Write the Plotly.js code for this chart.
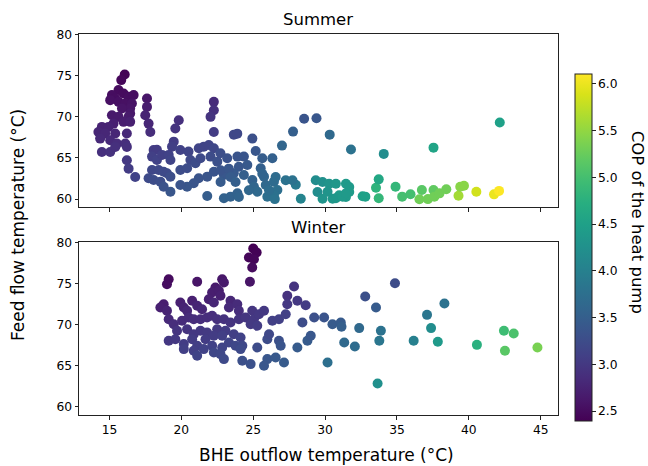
<!DOCTYPE html>
<html>
<head>
<meta charset="utf-8">
<script src="https://cdn.plot.ly/plotly-3.0.1.min.js"></script>
<style>html,body{margin:0;padding:0;background:#fff;}#chart{width:648px;height:466px;}</style>
</head>
<body>
<div id="chart"></div>
<script>
const summerX = [16.06,15.82,15.63,15.17,15.4,15.98,16.33,16.68,15.05,15.63,16.1,16.56,16.44,15.87,16.44,15.17,15.63,16.33,15.98,15.28,16.44,14.47,14.93,14.23,14.7,15.4,14.35,15.05,15.52,16.21,16.1,16.21,14.47,15.05,15.4,16.21,16.33,16.79,17.61,17.61,17.49,17.72,17.84,19.82,19.58,22.26,22.26,22.03,22.26,
18.07,18.3,17.96,18.3,18.66,19.12,19.47,19.35,19.24,19.93,20.5,20.63,17.96,18.42,18.77,19.0,17.72,18.07,18.54,19.24,19.93,20.4,20.98,21.33,21.21,21.56,21.91,22.26,22.03,22.5,22.72,23.19,23.9,24.35,24.59,24.0,23.65,22.96,22.26,21.8,21.21,20.86,20.4,19.93,19.24,18.77,21.8,22.96,23.42,23.9,24.35,24.94,25.05,25.29,25.87,26.44,26.68,25.63,25.52,26.33,25.75,25.98,26.44,
28.54,29.4,27.77,30.32,27.0,31.8,34.08,37.54,42.15,24.94,23.65,23.89,25.17,22.73,23.3,25.63,26.56,27.26,27.96,27.73,22.73,23.42,23.77,24.7,26.1,24.0,26.5,28.31,
29.35,29.82,30.28,30.75,31.45,31.68,29.47,29.82,30.52,30.98,31.45,31.68,32.61,30.17,30.75,31.22,31.45,
32.8,33.54,33.73,33.73,34.9,35.36,35.94,36.56,36.73,37.15,37.54,37.6,37.96,38.43,39.28,39.4,39.66,40.52,41.75,42.1];
const summerY = [75.13,74.45,73.24,72.63,72.22,72.82,72.42,72.63,72.02,71.81,71.61,71.61,71.0,71.0,70.39,70.19,69.99,69.99,69.38,69.17,69.38,68.77,68.77,68.16,67.96,67.96,67.35,67.15,66.74,67.96,66.74,66.34,65.73,65.73,66.34,64.72,63.7,62.69,72.21,71.2,70.19,69.17,68.16,69.58,68.57,71.81,70.8,69.99,68.16,
65.97,66.0,65.16,64.76,65.37,65.37,66.98,66.37,64.76,65.97,65.77,64.76,63.54,63.54,63.33,63.14,62.53,62.32,62.12,62.73,63.54,63.75,64.35,64.96,66.18,66.37,66.58,66.18,65.16,64.55,65.57,64.96,65.16,65.16,64.15,63.94,63.14,62.93,63.33,62.73,62.53,61.92,61.51,61.72,60.9,61.51,60.38,60.1,60.3,60.7,62.93,62.32,61.51,60.9,61.72,62.12,61.1,64.96,63.75,64.96,62.73,60.3,60.5,
69.75,69.83,68.2,67.83,66.5,66.03,65.49,66.25,69.3,67.35,67.83,67.95,65.85,63.5,63.7,63.09,62.69,62.29,61.75,62.29,62.08,62.69,62.08,61.07,61.07,60.26,60.0,60.05,
62.29,62.08,61.87,61.87,61.87,61.47,60.86,60.05,60.05,60.46,60.26,60.86,60.34,60.9,60.1,60.29,60.71,
60.3,61.39,62.4,60.1,61.51,60.3,60.6,59.98,61.1,60.0,61.1,60.3,60.7,61.19,60.41,61.51,61.63,60.9,60.58,61.0];
const summerCOP = [2.42,2.45,2.5,2.52,2.52,2.5,2.52,2.52,2.55,2.55,2.56,2.58,2.6,2.6,2.63,2.65,2.66,2.66,2.7,2.72,2.72,2.75,2.75,2.78,2.8,2.8,2.82,2.83,2.86,2.82,2.88,2.9,2.9,2.92,2.9,3.0,3.05,3.12,2.62,2.68,2.75,2.8,2.87,2.9,2.95,2.85,2.9,2.95,3.05,
3.05,3.05,3.1,3.12,3.1,3.12,3.05,3.08,3.15,3.12,3.15,3.2,3.18,3.2,3.22,3.22,3.22,3.25,3.27,3.27,3.25,3.25,3.25,3.22,3.15,3.15,3.15,3.18,3.25,3.3,3.27,3.32,3.35,3.37,3.42,3.4,3.42,3.4,3.35,3.37,3.35,3.37,3.38,3.35,3.38,3.33,3.48,3.55,3.55,3.55,3.5,3.55,3.6,3.65,3.65,3.68,3.75,3.48,3.52,3.52,3.6,3.75,3.78,
3.35,3.4,3.5,3.65,3.6,3.8,4.2,4.55,4.5,3.3,3.2,3.2,3.4,3.35,3.38,3.58,3.7,3.8,3.9,3.8,3.45,3.45,3.5,3.62,3.72,3.58,3.8,4.05,
4.2,4.25,4.3,4.35,4.4,4.4,4.2,4.3,4.35,4.4,4.4,4.42,4.5,4.3,4.35,4.4,4.4,
4.5,4.8,4.6,4.85,4.85,5.0,5.0,5.3,5.15,5.3,5.2,5.3,5.3,5.3,5.6,5.45,5.45,5.85,6.0,6.1];

const winterX = [25.0,25.24,24.7,25.05,24.93,24.77,19.12,19.0,21.1,22.84,22.96,22.37,22.14,22.61,21.91,22.72,22.26,27.84,27.37,28.07,28.65,18.77,18.54,19.0,19.93,20.17,20.75,21.1,21.44,20.4,23.42,23.31,23.89,24.0,
19.12,19.47,20.05,20.51,20.86,21.33,21.79,22.14,22.49,22.96,23.42,24.0,24.47,24.93,25.05,25.4,25.75,24.82,25.28,26.33,26.79,27.26,27.37,28.42,29.24,29.93,30.51,
19.7,20.4,20.86,21.33,21.79,22.49,23.07,23.65,24.12,19.12,19.58,20.17,20.75,21.1,21.68,22.26,22.84,20.17,20.86,21.56,22.14,22.84,23.31,23.77,24.24,21.1,22.26,22.72,22.96,24.12,24.24,24.82,25.28,25.98,26.1,26.79,26.91,25.98,26.56,27.14,25.75,28.07,28.77,29.0,30.17,
31.09,31.14,32.37,32.79,33.54,34.86,33.88,33.77,31.33,32.07,33.65,36.16,37.09,38.3,37.37,37.84,40.56,42.44,43.12,42.51,44.77];
const winterY = [79.31,78.82,78.21,78.01,77.0,75.25,75.57,74.96,75.25,75.57,75.17,74.56,73.95,74.15,73.13,73.54,72.73,74.68,73.54,72.93,72.4,72.52,72.12,71.71,72.73,72.12,72.93,72.32,71.91,71.71,72.93,72.12,72.52,71.71,
70.69,70.08,70.49,70.9,70.69,70.69,70.9,71.1,70.69,70.69,70.29,70.69,70.9,71.71,70.69,71.3,71.71,70.08,69.88,70.49,70.69,71.3,72.52,70.29,70.9,70.9,70.08,
69.27,69.47,68.86,69.27,69.07,69.47,69.27,68.86,68.46,68.05,68.25,67.65,68.25,67.44,68.25,68.66,68.66,67.04,66.83,67.04,67.44,67.24,67.85,67.44,67.44,66.22,66.63,66.43,65.82,67.04,65.61,65.21,67.24,68.25,68.86,68.05,67.44,65.82,66.02,65.41,65.0,67.24,68.05,68.66,65.41,
70.29,69.76,69.6,73.46,72.12,75.08,69.27,68.05,67.85,67.36,62.85,68.05,71.22,72.6,69.6,67.93,67.56,69.27,68.95,66.83,67.24];
const winterCOP = [2.4,2.42,2.45,2.45,2.5,2.6,2.5,2.52,2.6,2.62,2.65,2.65,2.7,2.7,2.72,2.72,2.78,2.95,2.92,3.0,3.05,2.7,2.72,2.75,2.72,2.75,2.72,2.76,2.8,2.8,2.8,2.83,2.85,2.88,
2.82,2.87,2.85,2.85,2.87,2.88,2.88,2.88,2.9,2.92,2.95,2.95,2.97,2.97,3.0,3.0,3.0,3.02,3.05,3.1,3.1,3.1,3.0,3.25,3.3,3.35,3.45,
2.95,2.95,3.0,3.0,3.02,3.02,3.05,3.08,3.12,3.0,3.0,3.05,3.05,3.08,3.05,3.05,3.08,3.08,3.1,3.12,3.12,3.15,3.15,3.18,3.2,3.15,3.18,3.2,3.22,3.22,3.3,3.32,3.25,3.25,3.2,3.3,3.35,3.4,3.42,3.45,3.4,3.45,3.45,3.4,3.75,
3.45,3.5,3.65,3.3,3.45,3.25,3.8,3.85,3.65,3.7,4.25,4.0,3.85,3.8,4.2,4.4,4.75,4.95,5.05,5.15,5.35];

const xTicks = [15, 20, 25, 30, 35, 40, 45];
const yTicks = [60, 65, 70, 75, 80];
const copTicks = [2.5, 3.0, 3.5, 4.0, 4.5, 5.0, 5.5, 6.0];

const FONT = 'DejaVu Sans, Verdana, sans-serif';
const LC = '#222';
const tickFont = {family: FONT, size: 12.3, color: '#000'};

function xAxis(anchor, showLabels) {
  return {anchor: anchor, domain: [0, 1], range: [12.88, 46.2], tickmode: 'array', tickvals: xTicks,
    ticktext: xTicks.map(String), showticklabels: showLabels, ticks: 'outside', ticklen: 3.5, tickwidth: 1,
    tickcolor: LC, showline: true, linecolor: LC, linewidth: 1, mirror: true, showgrid: false,
    zeroline: false, tickfont: tickFont};
}
function yAxis(anchor, domain) {
  return {anchor: anchor, domain: domain, range: [59.0, 80.05], tickmode: 'array', tickvals: yTicks,
    ticktext: yTicks.map(String), ticks: 'outside', ticklen: 3.5, tickwidth: 1, tickcolor: LC,
    showline: true, linecolor: LC, linewidth: 1, mirror: true, showgrid: false, zeroline: false,
    tickfont: tickFont};
}

const traces = [
  {type: 'scatter', mode: 'markers', x: summerX, y: summerY, xaxis: 'x', yaxis: 'y', hoverinfo: 'skip',
   marker: {size: 10, color: summerCOP, coloraxis: 'coloraxis', line: {width: 0}}},
  {type: 'scatter', mode: 'markers', x: winterX, y: winterY, xaxis: 'x2', yaxis: 'y2', hoverinfo: 'skip',
   marker: {size: 10, color: winterCOP, coloraxis: 'coloraxis', line: {width: 0}}}
];

const ann = (text, x, y, size, angle) => ({text: text, x: x, y: y, xref: 'paper', yref: 'paper',
  showarrow: false, xanchor: 'center', yanchor: 'middle', textangle: angle || 0,
  font: {family: FONT, size: size, color: '#000'}});

const layout = {
  width: 648, height: 466,
  margin: {l: 79, r: 90, t: 34, b: 51, autoexpand: false},
  paper_bgcolor: '#fff', plot_bgcolor: '#fff', showlegend: false,
  font: {family: FONT, color: '#000'},
  xaxis: xAxis('y', false),
  xaxis2: Object.assign(xAxis('y2', true), {matches: 'x'}),
  yaxis: yAxis('x', [0.545, 1]),
  yaxis2: yAxis('x2', [0, 0.4528]),
  coloraxis: {colorscale: 'Viridis', cmin: 2.396, cmax: 6.107,
    colorbar: {x: 1.0355, xanchor: 'left', xpad: 0, ypad: 0, y: 0.44, yanchor: 'middle',
      len: 347, lenmode: 'pixels', thickness: 17, thicknessmode: 'pixels',
      outlinewidth: 1, outlinecolor: LC, ticks: 'outside', ticklen: 3.5, tickwidth: 1, tickcolor: LC,
      tickmode: 'array', tickvals: copTicks, ticktext: copTicks.map(v => v.toFixed(1)),
      tickfont: tickFont, title: {text: ''}}},
  annotations: [
    ann('Summer', 0.499, 1.039, 16.5),
    ann('Winter', 0.499, 0.491, 16.5),
    ann('BHE outflow temperature (°C)', 0.516, -0.105, 17),
    ann('Feed flow temperature (°C)', -0.127, 0.499, 17, -90),
    ann('COP of the heat pump', 1.165, 0.507, 16.5, 90)
  ]
};

Plotly.newPlot('chart', traces, layout, {staticPlot: true, displayModeBar: false});
</script>
</body>
</html>
